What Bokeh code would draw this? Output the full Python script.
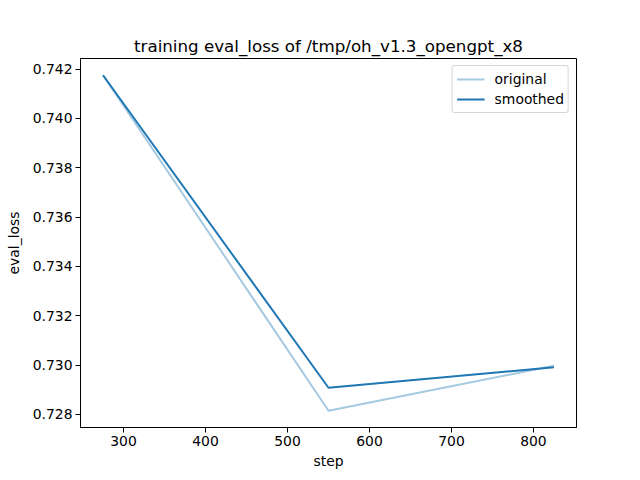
from bokeh.plotting import figure
from bokeh.models import Range1d, FixedTicker, Legend, LegendItem, PrintfTickFormatter
from bokeh.embed import file_html
from bokeh.resources import INLINE

steps = [275, 550, 825]
original = [0.74175, 0.72815, 0.72997]
smoothed = [0.74175, 0.72908, 0.72991]
x_ticks = [300, 400, 500, 600, 700, 800]
y_ticks = [0.728, 0.730, 0.732, 0.734, 0.736, 0.738, 0.740, 0.742]

FONT = "DejaVu Sans"

xr = max(steps) - min(steps)
allv = original + smoothed
yr = max(allv) - min(allv)

p = figure(width=640, height=480, output_backend="svg", toolbar_location=None,
           x_range=Range1d(min(steps) - 0.05 * xr, max(steps) + 0.05 * xr),
           y_range=Range1d(min(allv) - 0.05 * yr, max(allv) + 0.05 * yr),
           min_border_left=80, min_border_right=64, min_border_top=58, min_border_bottom=53)

p.title.text = "training eval_loss of /tmp/oh_v1.3_opengpt_x8"
p.title.align = "center"
p.title.text_font = FONT
p.title.text_font_size = "16.7px"
p.title.text_font_style = "normal"
p.title.text_color = "black"
p.title.offset = 0
p.title.standoff = 5

p.xgrid.visible = False
p.ygrid.visible = False
p.outline_line_color = "black"
p.outline_line_width = 1
p.background_fill_color = "white"
p.border_fill_color = "white"

for ax in (p.xaxis[0], p.yaxis[0]):
    ax.major_label_text_font = FONT
    ax.major_label_text_font_size = "13.9px"
    ax.major_label_text_color = "black"
    ax.axis_label_text_font = FONT
    ax.axis_label_text_font_size = "13.9px"
    ax.axis_label_text_font_style = "normal"
    ax.axis_label_text_color = "black"
    ax.major_tick_out = 5
    ax.major_tick_in = 0
    ax.minor_tick_out = 0
    ax.minor_tick_in = 0
    ax.axis_line_color = "black"
    ax.major_tick_line_color = "black"

p.xaxis.ticker = FixedTicker(ticks=x_ticks)
p.yaxis.ticker = FixedTicker(ticks=y_ticks)
p.yaxis.formatter = PrintfTickFormatter(format="%.3f")
p.xaxis.axis_label = "step"
p.yaxis.axis_label = "eval_loss"
p.xaxis.axis_label_standoff = 4
p.yaxis.axis_label_standoff = 8
p.xaxis.major_label_standoff = 3
p.yaxis.major_label_standoff = 3

r1 = p.line(steps, original, line_color="#1f77b4", line_alpha=0.4, line_width=2)
r2 = p.line(steps, smoothed, line_color="#1f77b4", line_width=2)

legend = Legend(items=[LegendItem(label="original", renderers=[r1]),
                       LegendItem(label="smoothed", renderers=[r2])],
                location="top_right")
legend.label_text_font = FONT
legend.label_text_font_size = "13.9px"
legend.label_text_color = "black"
legend.border_line_color = "#cccccc"
legend.border_line_alpha = 0.8
legend.border_radius = 3
legend.margin = 7
legend.padding = 4
legend.spacing = 2
legend.glyph_width = 28
legend.label_standoff = 10
legend.glyph_height = 18
legend.label_height = 18
p.add_layout(legend)

open("out.html", "w").write(file_html(p, INLINE))
